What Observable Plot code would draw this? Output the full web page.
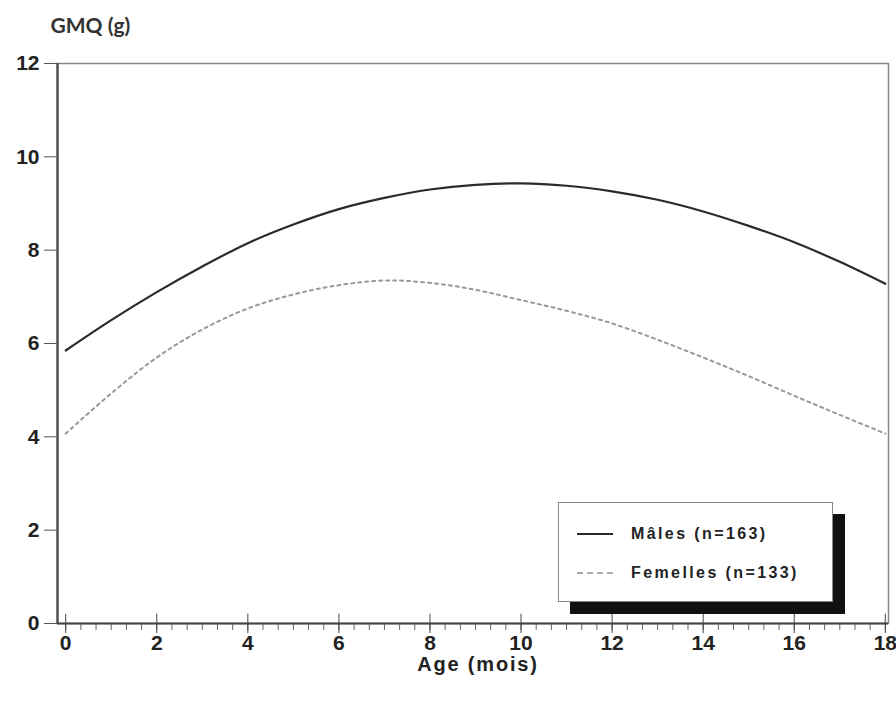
<!DOCTYPE html>
<html>
<head>
<meta charset="utf-8">
<script src="https://cdn.jsdelivr.net/npm/d3@7"></script>
<script src="https://cdn.jsdelivr.net/npm/@observablehq/plot@0.6"></script>
<style>
  html, body { margin: 0; padding: 0; background: #fff; }
  #wrap { position: relative; width: 896px; height: 706px; }
  #legend {
    position: absolute; left: 558px; top: 502px; width: 273px; height: 98px;
    background: #fff; border: 1.5px solid #888;
    box-shadow: 12px 12px 0 0 #111;
    font-family: "Liberation Sans", Arial, sans-serif; font-weight: bold;
    font-size: 16px; letter-spacing: 2.4px; color: #222;
  }
  .row { position: absolute; left: 18px; display: flex; align-items: center; }
  .sw { width: 36px; height: 0; margin-right: 18px; }
</style>
</head>
<body>
<div id="wrap"></div>
<script>
// Age in months
const months = [0,1,2,3,4,5,6,7,8,9,10,11,12,13,14,15,16,17,18];
// GMQ (g) – males (n=163)
const males = [5.85,6.5,7.1,7.65,8.15,8.55,8.88,9.12,9.3,9.4,9.43,9.38,9.26,9.08,8.83,8.52,8.17,7.75,7.28];
// GMQ (g) – females (n=133)
const females = [4.07,4.93,5.7,6.3,6.75,7.05,7.25,7.35,7.3,7.15,6.93,6.7,6.43,6.08,5.7,5.3,4.88,4.47,4.07];
const xTicks = [0,2,4,6,8,10,12,14,16,18];
const yTicks = [0,2,4,6,8,10,12];
const minorTicks = d3.range(0, 55).map(i => i / 3);
const seriesNames = ["Mâles (n=163)", "Femelles (n=133)"];

const data = [
  ...months.map((m, i) => ({age: m, gmq: males[i], sex: seriesNames[0]})),
  ...months.map((m, i) => ({age: m, gmq: females[i], sex: seriesNames[1]}))
];

const font = "Liberation Sans, Arial, sans-serif";

const chart = Plot.plot({
  width: 896,
  height: 706,
  marginLeft: 57,
  marginRight: 8,
  marginTop: 63,
  marginBottom: 83,
  style: {fontFamily: font, fontWeight: "bold", fontSize: "21px", color: "#222", background: "#fff"},
  x: {domain: [-0.18, 18.07]},
  y: {domain: [0, 12]},
  marks: [
    Plot.frame({stroke: "#888", strokeWidth: 1.5}),
    Plot.axisY({ticks: yTicks, tickSize: 13, tickPadding: 5, label: null, fontSize: 21, stroke: "#555"}),
    Plot.axisX({ticks: minorTicks, tickSize: 7, tickFormat: () => "", label: null, stroke: "#666"}),
    Plot.axisX({ticks: xTicks, tickSize: 10, tickPadding: 2, label: null, fontSize: 21, stroke: "#444"}),
    Plot.ruleX(xTicks, {x: d => d, y1: 0, y2: 0.2, stroke: "#444"}),
    Plot.ruleX([-0.18], {stroke: "#555", strokeWidth: 2.5}),
    Plot.ruleY([0], {stroke: "#444", strokeWidth: 2}),
    Plot.line(data.filter(d => d.sex === seriesNames[1]), {x: "age", y: "gmq", curve: "catmull-rom", stroke: "#999", strokeWidth: 2, strokeDasharray: "3,4"}),
    Plot.line(data.filter(d => d.sex === seriesNames[0]), {x: "age", y: "gmq", curve: "catmull-rom", stroke: "#2a2a2a", strokeWidth: 2.2}),
    Plot.text(["GMQ (g)"], {frameAnchor: "top-left", dx: -7, dy: -37, textAnchor: "start", lineAnchor: "middle", fontFamily: "Lato, sans-serif", fontSize: 21, fontWeight: "bold", fill: "#333"}),
    Plot.text(["Age (mois)"], {frameAnchor: "bottom", dx: 5, dy: 41, lineAnchor: "middle", fontSize: 20, fontWeight: "bold", fill: "#222", style: "letter-spacing:1.5px"})
  ]
});

const wrap = document.getElementById("wrap");
wrap.appendChild(chart);
// letter spacing on x label
d3.select(chart).selectAll("text").filter(function() { return this.textContent === "Age (mois)"; }).style("letter-spacing", "1.8px");

const legend = document.createElement("div");
legend.id = "legend";
legend.innerHTML = `
  <div class="row" style="top:22px"><div class="sw" style="border-top:2.2px solid #2a2a2a"></div><span>${seriesNames[0]}</span></div>
  <div class="row" style="top:61px"><div class="sw" style="border-top:2px dashed #aaa"></div><span>${seriesNames[1]}</span></div>`;
wrap.appendChild(legend);
</script>
</body>
</html>
